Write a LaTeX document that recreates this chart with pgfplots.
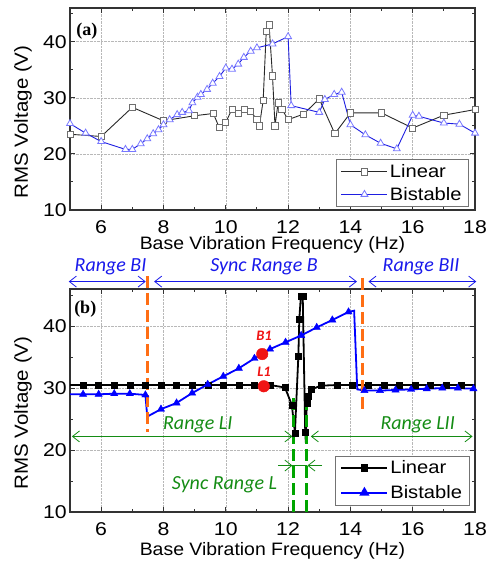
\documentclass[border=0pt]{standalone}
\usepackage{pgfplots}
\usepackage{pgfplotstable}
\pgfplotsset{compat=1.18}
\usepackage{fontspec}
\setmainfont{Liberation Sans}
\usetikzlibrary{arrows.meta}

\newfontfamily\tickfam{Liberation Sans}[FakeStretch=1.15]
\newfontfamily\labfam{Liberation Sans}[FakeStretch=1.08]
\newfontfamily\legfam{Liberation Sans}[FakeStretch=1.12]
\newfontfamily\notefam{Carlito}
\newfontfamily\panelfam{Liberation Serif}

\definecolor{lineA}{RGB}{40,40,40}
\definecolor{markA}{RGB}{110,110,110}
\definecolor{blueA}{RGB}{30,30,225}
\definecolor{triA}{RGB}{120,120,255}
\definecolor{blueB}{RGB}{0,0,255}
\definecolor{noteblue}{RGB}{25,25,235}
\definecolor{noteorange}{RGB}{255,110,20}
\definecolor{notegreen}{RGB}{20,140,20}
\definecolor{dashgreen}{RGB}{0,165,0}
\definecolor{notered}{RGB}{240,20,20}

% ---------------- panel (a) ----------------
\pgfplotstableread{
x y
5.00 23.5
6.00 23.1
7.00 28.3
8.00 25.9
9.00 26.8
9.60 27.2
9.79 24.7
10.00 25.6
10.20 28.0
10.40 27.2
10.60 27.9
10.80 27.6
11.00 26.1
11.08 25.0
11.20 29.5
11.30 41.9
11.39 43.0
11.50 33.9
11.58 25.0
11.68 29.1
11.80 28.0
12.00 26.1
12.50 27.1
13.00 29.8
13.50 23.6
14.00 27.3
15.00 27.3
16.00 24.6
17.00 26.9
18.00 27.9
}\linA

\pgfplotstableread{
x y
5.00 25.4
5.50 23.7
6.00 22.2
6.78 20.8
7.00 20.8
7.27 21.8
7.48 22.7
7.67 23.6
7.84 24.3
8.00 25.2
8.20 26.1
8.44 27.0
8.60 27.4
8.82 27.7
8.93 29.1
9.09 30.1
9.20 30.6
9.40 31.5
9.58 32.6
9.80 33.8
10.00 35.3
10.20 35.1
10.40 36.0
10.58 37.2
10.80 38.3
11.00 38.9
11.50 39.6
12.00 40.9
12.10 28.6
13.00 27.4
13.18 29.7
13.48 30.6
13.72 31.0
14.00 25.2
14.48 23.4
14.97 21.9
15.49 20.9
16.00 26.9
16.20 26.7
17.00 25.5
17.50 25.3
18.00 23.7
}\bisA

% ---------------- panel (b) ----------------
% full traces (lines)
\pgfplotstableread{
x y
5.00 30.5
5.42 30.5
5.92 30.5
6.42 30.5
6.92 30.5
7.42 30.5
7.92 30.5
8.42 30.5
8.92 30.5
9.42 30.5
9.92 30.5
10.42 30.5
10.92 30.5
11.42 30.5
11.90 30.1
12.12 27.3
12.22 22.8
12.33 35.2
12.36 41.1
12.41 44.8
12.47 44.9
12.55 22.9
12.57 21.2
12.60 27.5
12.64 28.7
12.73 29.8
13.07 30.4
13.57 30.5
14.07 30.5
14.57 30.5
15.07 30.5
15.57 30.5
16.07 30.5
16.57 30.5
17.07 30.5
17.57 30.5
18.00 30.5
}\linBline

% measured points (markers)
\pgfplotstableread{
x y
5.42 30.5
5.92 30.5
6.42 30.5
6.92 30.5
7.42 30.5
7.92 30.5
8.42 30.5
8.92 30.5
9.42 30.5
9.92 30.5
10.42 30.5
10.92 30.5
11.42 30.5
11.90 30.1
12.12 27.3
12.22 22.8
12.33 35.2
12.36 41.1
12.41 44.8
12.47 44.9
12.55 22.9
12.60 27.5
12.64 28.7
12.73 29.8
13.07 30.4
13.57 30.5
14.07 30.5
14.57 30.5
15.07 30.5
15.57 30.5
16.07 30.5
16.57 30.5
17.07 30.5
17.57 30.5
}\linBmark

\pgfplotstableread{
x y
5.00 29.0
5.42 29.0
5.92 29.0
6.42 29.1
6.92 29.1
7.42 28.9
7.48 25.4
7.92 26.6
8.42 27.6
8.92 29.2
9.42 30.6
9.92 31.9
10.42 33.2
10.92 34.8
11.42 36.3
11.92 37.4
12.42 38.5
12.92 39.8
13.42 41.0
13.94 42.3
14.12 42.5
14.22 29.8
14.45 29.6
14.95 29.6
15.45 29.7
15.95 29.8
16.45 29.9
16.95 30.0
17.45 30.0
17.95 29.9
18.00 29.9
}\bisBline

\pgfplotstableread{
x y
5.42 29.0
5.92 29.0
6.42 29.1
6.92 29.1
7.42 28.9
7.92 26.6
8.42 27.6
8.92 29.2
9.42 30.6
9.92 31.9
10.42 33.2
10.92 34.8
11.42 36.3
11.92 37.4
12.42 38.5
12.92 39.8
13.42 41.0
13.94 42.3
14.45 29.6
14.95 29.6
15.45 29.7
15.95 29.8
16.45 29.9
16.95 30.0
17.45 30.0
17.95 29.9
}\bisBmark

% operating points B1 and L1
\pgfplotstableread{
x y
11.17 35.5
11.22 30.3
}\opPts

\pgfplotsset{
  panel/.style={
    scale only axis, width=405pt,
    xmin=5, xmax=18, ymin=10, ymax=46,
    xtick={6,8,...,18}, minor xtick={5,7,...,17},
    ytick={10,20,30,40}, minor ytick={15,25,35,45},
    tick align=inside, major tick length=5pt, minor tick length=3pt,
    every tick/.style={black!80, line width=0.9pt},
    axis line style={black!80, line width=1.1pt},
    grid=major, major grid style={densely dotted, black!28, line width=0.5pt},
    /pgf/number format/assume math mode=true,
    ticklabel style={font=\tickfam\fontsize{18.5}{19}\selectfont, inner sep=0pt},
    xticklabel style={anchor=base, yshift=-23pt},
    yticklabel style={anchor=east, xshift=-3pt},
    xlabel={Base Vibration Frequency (Hz)},
    ylabel={RMS Voltage (V)},
    label style={inner sep=0pt},
    xlabel style={font=\labfam\fontsize{18}{19}\selectfont, anchor=base},
    ylabel style={font=\labfam\fontsize{19}{20}\selectfont, anchor=center},
    legend cell align=left,
    legend style={draw=black!55, line width=0.6pt, fill=white,
      font=\legfam\fontsize{18}{19}\selectfont,
      inner xsep=5pt, inner ysep=3pt,
      /tikz/every even column/.append style={column sep=4pt}},
    legend image code/.code={%
      \draw[mark repeat=2,mark phase=2] plot coordinates {(0pt,0pt) (23pt,0pt) (46pt,0pt)};},
  },
}
\tikzset{
  note/.style={font=\notefam\itshape\fontsize{20}{21}\selectfont, inner sep=0pt, anchor=base},
  tip/.style={-{Straight Barb[length=7pt,width=11pt,line width=0.8pt]}},
  tips/.style={{Straight Barb[length=7pt,width=11pt,line width=0.8pt]}-{Straight Barb[length=7pt,width=11pt,line width=0.8pt]}},
}

\begin{document}
\begin{tikzpicture}
\path[use as bounding box] (3pt,0pt) rectangle (491pt,-561pt);

% ---------------- (a) ----------------
\begin{axis}[panel,
  at={(73pt,-210pt)}, anchor=south west, height=202pt,
  xlabel style={at={(axis description cs:0.5,-0.198)}},
  ylabel style={at={(axis description cs:-0.116,0.436)}},
  legend style={at={(axis description cs:0.985,0.015)}, anchor=south east, row sep=4pt},
]
\addplot[color=lineA, line width=0.9pt, mark=square*,
  mark options={solid, fill=white, draw=markA, line width=0.8pt}, mark size=3.1pt]
  table[x=x,y=y] {\linA};
\addlegendentry{Linear}
\addplot[color=blueA, line width=0.9pt, mark=triangle*,
  mark options={solid, fill=white, draw=triA, line width=0.8pt}, mark size=4pt]
  table[x=x,y=y] {\bisA};
\addlegendentry{Bistable}
\node[font=\panelfam\bfseries\fontsize{18}{19}\selectfont, anchor=west, inner sep=0pt]
  at (axis cs:5.2,41.9) {(a)};
\end{axis}

% ---------------- (b) ----------------
\begin{axis}[panel,
  at={(73pt,-512pt)}, anchor=south west, height=223pt, clip=false,
  xlabel style={at={(axis description cs:0.5,-0.197)}},
  ylabel style={at={(axis description cs:-0.116,0.444)}},
  legend style={at={(axis description cs:0.986,0.03)}, anchor=south east, row sep=6pt},
]
\addlegendimage{black, line width=1.8pt, mark=square*, mark size=3pt, mark options={solid}}
\addlegendentry{Linear}
\addlegendimage{blueB, line width=1.8pt, mark=triangle*, mark size=4.2pt, mark options={solid}}
\addlegendentry{Bistable}

\addplot[forget plot, black, line width=1.8pt, mark=none] table[x=x,y=y] {\linBline};
\addplot[forget plot, only marks, black, mark=square*, mark size=3pt] table[x=x,y=y] {\linBmark};
\addplot[forget plot, blueB, line width=1.8pt, mark=none] table[x=x,y=y] {\bisBline};
\addplot[forget plot, only marks, blueB, mark=triangle*, mark size=4.2pt] table[x=x,y=y] {\bisBmark};
\addplot[forget plot, only marks, notered, mark=*, mark size=5.8pt] table[x=x,y=y] {\opPts};

% range boundaries of the bistable harvester
\draw[noteorange, line width=3pt, dash pattern=on 12pt off 5pt]
  (axis cs:7.5,48.1) -- (axis cs:7.5,22.9);
\draw[noteorange, line width=3pt, dash pattern=on 12pt off 5pt]
  (axis cs:14.4,47.8) -- (axis cs:14.4,25.9);
\draw[noteblue, line width=0.8pt, tips] (axis cs:4.96,47.2) -- (axis cs:7.43,47.2);
\draw[noteblue, line width=0.8pt, tips] (axis cs:7.70,47.2) -- (axis cs:14.21,47.2);
\draw[noteblue, line width=0.8pt, tips] (axis cs:14.58,47.2) -- (axis cs:18.04,47.2);
\node[note, text=noteblue] at (axis cs:6.3,48.9) {Range BI};
\node[note, text=noteblue] at (axis cs:11.23,48.9) {Sync Range B};
\node[note, text=noteblue] at (axis cs:16.27,48.9) {Range BII};

% range boundaries of the linear harvester
\draw[dashgreen, line width=3pt, dash pattern=on 12pt off 5pt]
  (axis cs:12.18,28.4) -- (axis cs:12.18,9.5);
\draw[dashgreen, line width=3pt, dash pattern=on 12pt off 5pt]
  (axis cs:12.6,28.4) -- (axis cs:12.6,9.5);
\draw[notegreen, line width=0.8pt, tips] (axis cs:5.06,22.2) -- (axis cs:12.14,22.2);
\draw[notegreen, line width=0.8pt, tips] (axis cs:12.73,22.2) -- (axis cs:17.92,22.2);
\draw[notegreen, line width=0.8pt] (axis cs:12.14,17.5) -- (axis cs:12.62,17.5);
\draw[notegreen, line width=0.8pt, tip] (axis cs:11.68,17.5) -- (axis cs:12.14,17.5);
\draw[notegreen, line width=0.8pt, tip] (axis cs:13.09,17.5) -- (axis cs:12.62,17.5);
\node[note, text=notegreen] at (axis cs:9.1,23.25) {Range LI};
\node[note, text=notegreen] at (axis cs:16.16,23.4) {Range LII};
\node[note, text=notegreen] at (axis cs:9.96,13.6) {Sync Range L};

% operating point labels
\node[font=\notefam\bfseries\itshape\fontsize{14.5}{15}\selectfont, text=notered, inner sep=0pt]
  at (axis cs:11.23,38.5) {B1};
\node[font=\notefam\bfseries\itshape\fontsize{14.5}{15}\selectfont, text=notered, inner sep=0pt]
  at (axis cs:11.23,32.7) {L1};

\node[font=\panelfam\bfseries\fontsize{18}{19}\selectfont, anchor=west, inner sep=0pt]
  at (axis cs:5.13,42.75) {(b)};
\end{axis}
\end{tikzpicture}
\end{document}
